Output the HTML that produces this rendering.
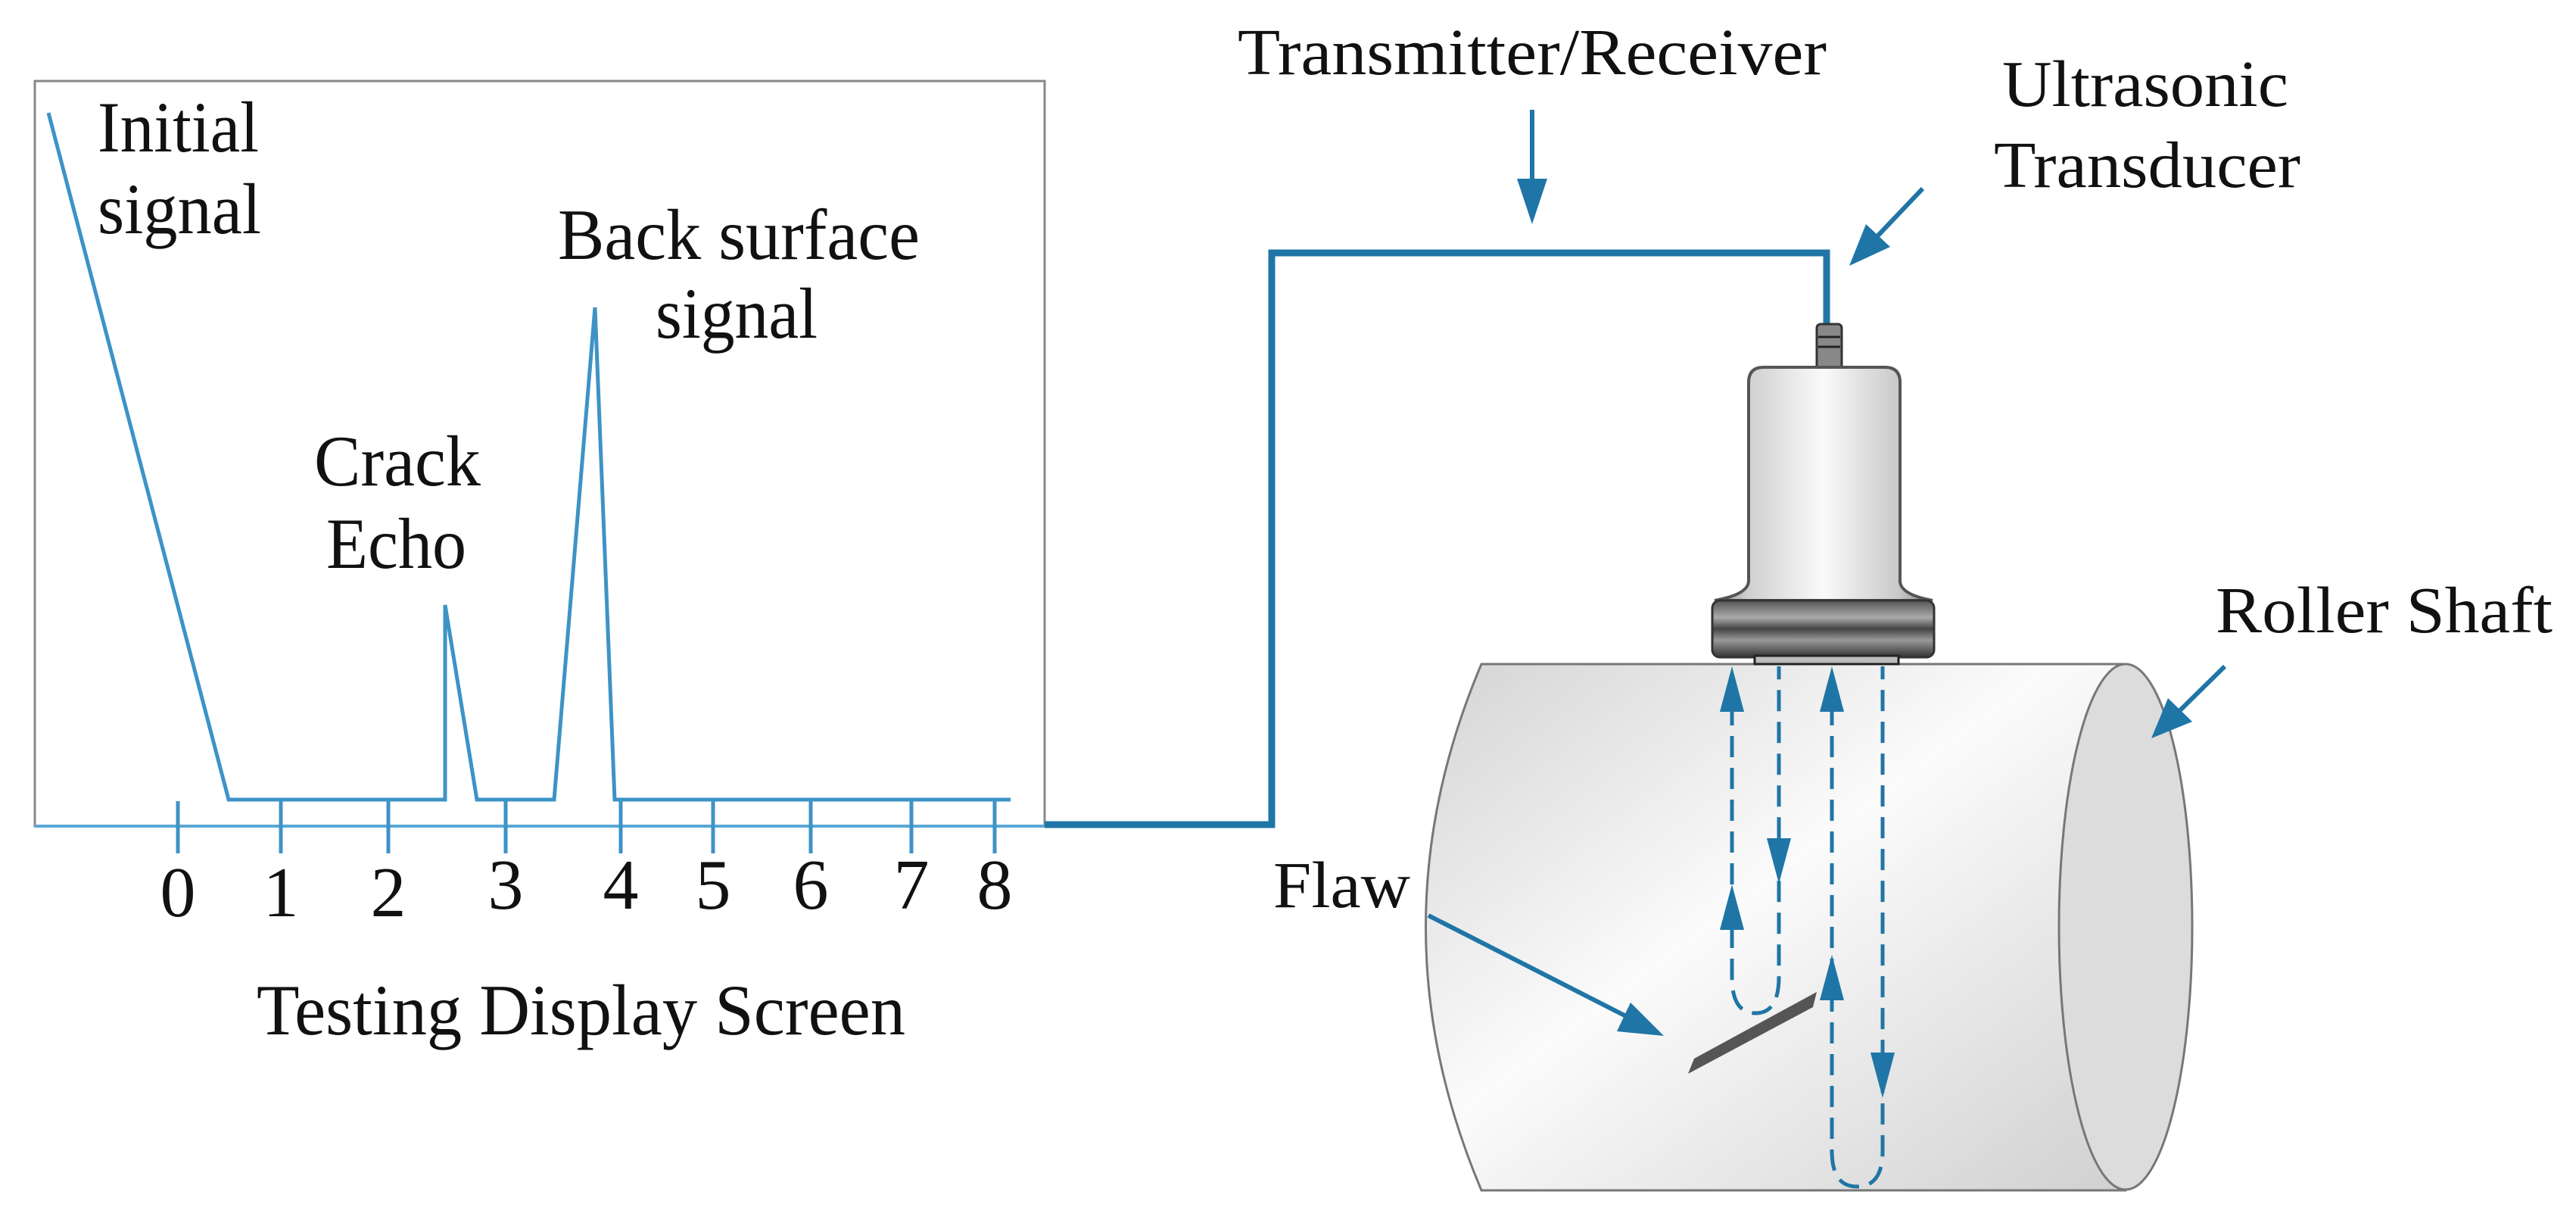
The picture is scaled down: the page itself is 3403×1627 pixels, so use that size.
<!DOCTYPE html>
<html><head><meta charset="utf-8"><style>
html,body{margin:0;padding:0;background:#fff;}
svg{display:block;}
text{font-family:"Liberation Serif","Times New Roman","DejaVu Serif",serif;fill:#111;}
</style></head><body>
<svg width="3403" height="1627" viewBox="0 0 3403 1627" xmlns="http://www.w3.org/2000/svg">
<defs>
<linearGradient id="cyl" x1="0" y1="0" x2="1" y2="1">
<stop offset="0" stop-color="#d4d4d4"/><stop offset="0.45" stop-color="#fbfbfb"/><stop offset="1" stop-color="#d0d0d0"/>
</linearGradient>
<linearGradient id="body" x1="0" y1="0" x2="1" y2="0">
<stop offset="0" stop-color="#8a8a8a"/><stop offset="0.15" stop-color="#cfcfcf"/><stop offset="0.5" stop-color="#fafafa"/><stop offset="0.85" stop-color="#c8c8c8"/><stop offset="1" stop-color="#7a7a7a"/>
</linearGradient>
<linearGradient id="ring" x1="0" y1="0" x2="0" y2="1">
<stop offset="0" stop-color="#555"/><stop offset="0.3" stop-color="#aaa"/><stop offset="0.5" stop-color="#444"/><stop offset="0.7" stop-color="#999"/><stop offset="1" stop-color="#333"/>
</linearGradient>
</defs>

<rect x="46" y="107" width="1334" height="984" fill="#fff" stroke="#888" stroke-width="3"/>
<line x1="46" y1="1091" x2="1380" y2="1091" stroke="#5aa7d6" stroke-width="4"/>
<polyline points="64,149 302,1056 588,1056 588,799 630,1056 732,1056 786,406 812,1056 1335,1056" fill="none" stroke="#3d93c6" stroke-width="5"/>
<g stroke="#3d93c6" stroke-width="5">
<line x1="235" y1="1058" x2="235" y2="1127"/><line x1="371" y1="1058" x2="371" y2="1127"/><line x1="513" y1="1058" x2="513" y2="1127"/><line x1="668" y1="1058" x2="668" y2="1127"/><line x1="820" y1="1058" x2="820" y2="1127"/><line x1="942" y1="1058" x2="942" y2="1127"/><line x1="1071" y1="1058" x2="1071" y2="1127"/><line x1="1204" y1="1058" x2="1204" y2="1127"/><line x1="1314" y1="1058" x2="1314" y2="1127"/>
</g>
<g font-size="94" text-anchor="middle">
<text x="235" y="1210">0</text><text x="371" y="1210">1</text><text x="513" y="1210">2</text><text x="668" y="1200">3</text><text x="820" y="1200">4</text><text x="942" y="1200">5</text><text x="1071" y="1200">6</text><text x="1204" y="1200">7</text><text x="1314" y="1200">8</text>
</g>
<g font-size="95">
<text x="129" y="200" textLength="213" lengthAdjust="spacingAndGlyphs">Initial</text><text x="129" y="308" textLength="216" lengthAdjust="spacingAndGlyphs">signal</text>
<text x="737" y="342" textLength="478" lengthAdjust="spacingAndGlyphs">Back surface</text><text x="866" y="446" textLength="214" lengthAdjust="spacingAndGlyphs">signal</text>
<text x="415" y="641" textLength="220" lengthAdjust="spacingAndGlyphs">Crack</text><text x="431" y="750" textLength="185" lengthAdjust="spacingAndGlyphs">Echo</text>
<text x="339" y="1366" textLength="857" lengthAdjust="spacingAndGlyphs">Testing Display Screen</text>
</g>

<polyline points="1380,1089 1680,1089 1680,334 2413,334 2413,431" fill="none" stroke="#1f75a6" stroke-width="9"/>

<path d="M1957,877 L2808,877 L2808,1572 L1957,1572 Q1810,1224 1957,877 z" fill="url(#cyl)" stroke="#777" stroke-width="3"/>
<ellipse cx="2808" cy="1224" rx="88" ry="347" fill="#dcdcdc" stroke="#777" stroke-width="3"/>

<g font-size="87">
<text x="1635" y="98" textLength="778" lengthAdjust="spacingAndGlyphs">Transmitter/Receiver</text>
<text x="2645" y="140" textLength="378" lengthAdjust="spacingAndGlyphs">Ultrasonic</text>
<text x="2634" y="247" textLength="405" lengthAdjust="spacingAndGlyphs">Transducer</text>
<text x="2927" y="835" textLength="445" lengthAdjust="spacingAndGlyphs">Roller Shaft</text>
<text x="1682" y="1198" textLength="181" lengthAdjust="spacingAndGlyphs">Flaw</text>
</g>
<g stroke="#1f75a6" stroke-width="6" fill="none">
<line x1="2024" y1="145" x2="2024" y2="240"/>
<line x1="2540" y1="249" x2="2480" y2="312"/>
<line x1="2939" y1="880" x2="2880" y2="938"/>
<line x1="1887" y1="1209" x2="2150" y2="1343"/>
</g>
<g fill="#1f75a6">
<polygon points="2004,236 2044,236 2024,296"/>
<polygon points="2465,296 2497,326 2443,351"/>
<polygon points="2864,922 2896,953 2842,975"/>
<polygon points="2136,1362 2154,1324 2198,1368"/>
</g>

<polygon points="2230,1418 2238,1398 2400,1310 2395,1330" fill="#555"/>

<g stroke="#1f75a6" stroke-width="5" fill="none" stroke-dasharray="28,14">
<path d="M2288,930 L2288,1290 Q2288,1338 2319,1338 Q2350,1338 2350,1290 L2350,880"/>
<path d="M2420,930 L2420,1520 Q2420,1567 2453,1567 Q2487,1567 2487,1520 L2487,880"/>
</g>
<g fill="#1f75a6">
<polygon points="2288,880 2272,940 2304,940"/>
<polygon points="2288,1168 2272,1228 2304,1228"/>
<polygon points="2350,1167 2334,1107 2366,1107"/>
<polygon points="2420,880 2404,940 2436,940"/>
<polygon points="2420,1261 2404,1321 2436,1321"/>
<polygon points="2487,1450 2471,1390 2503,1390"/>
</g>

<rect x="2400" y="428" width="33" height="60" rx="5" fill="#888" stroke="#333" stroke-width="3"/>
<line x1="2402" y1="445" x2="2431" y2="445" stroke="#222" stroke-width="3"/>
<line x1="2402" y1="458" x2="2431" y2="458" stroke="#222" stroke-width="3"/>
<path d="M2310,505 Q2310,485 2330,485 L2490,485 Q2510,485 2510,505 L2510,767 Q2510,785 2553,793 L2265,793 Q2310,785 2310,767 z" fill="url(#body)" stroke="#555" stroke-width="4"/>
<rect x="2262" y="793" width="293" height="75" rx="10" fill="url(#ring)" stroke="#333" stroke-width="3"/>
<rect x="2318" y="866" width="190" height="11" fill="#bbb" stroke="#222" stroke-width="3"/>
</svg>
</body></html>
